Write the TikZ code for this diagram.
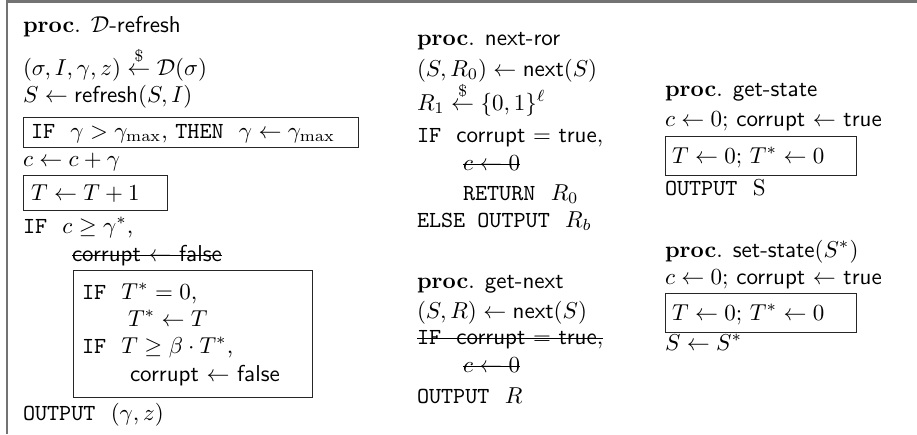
\documentclass[tikz,border=0pt]{standalone}
\usepackage{amsmath}
\newcommand{\kw}[1]{\texttt{#1}}
\newcommand{\sfn}[1]{\textsf{#1}}
\newcommand{\rnd}{\stackrel{\$}{\leftarrow}}
\tikzset{
  txt/.style={anchor=base west, inner sep=0pt, outer sep=0pt},
  cbox/.style={draw=black!85, line width=0.5pt, anchor=north west, inner sep=0pt},
  frameline/.style={draw=black!55, line width=0.9pt},
  strike/.style={draw=black, line width=0.4pt},
}
\begin{document}
\begin{tikzpicture}[x=0.4348pt,y=-0.4348pt]
\useasboundingbox (0,0) rectangle (917,434);
% frame
\coordinate (fTL) at (7,1.5);
\coordinate (fTR) at (917,1.5);
\coordinate (fBL) at (7,434);
\draw[frameline] (fBL) -- (fTL) -- (fTR);

% ---------- column 1 ----------
\node[txt] (a1) at (23,32) {\textbf{proc}. $\mathcal{D}$-\sfn{refresh}};
\node[txt] (a2) at (23,75) {$(\sigma,I,\gamma,z)\rnd\mathcal{D}(\sigma)$};
\node[txt] (a3) at (23,102) {$S\leftarrow\text{\sfn{refresh}}(S,I)$};
\node[cbox, minimum width=145.6pt, minimum height=13.0pt] (b1) at (23,117) {};
\node[txt] (a4) at (31,138) {\kw{IF}~~$\gamma>\gamma_{\max}$, \kw{THEN}~~$\gamma\leftarrow\gamma_{\max}$};
\node[txt] (a5) at (23,166) {$c\leftarrow c+\gamma$};
\node[cbox, minimum width=62.6pt, minimum height=15.2pt] (b2) at (23,175) {};
\node[txt] (a6) at (31,200) {$T\leftarrow T+1$};
\node[txt] (a7) at (23,233) {\kw{IF}~~$c\geq\gamma^{*}$,};
\node[txt] (a8) at (72,261) {\sfn{corrupt} $\leftarrow$ \sfn{false}};
\draw[strike] ([yshift=2.6pt]a8.base west) -- ([yshift=2.6pt]a8.base east);
\node[cbox, minimum width=103.9pt, minimum height=55.2pt] (b3) at (73,270) {};
\node[txt] (a9) at (82,299) {\kw{IF}~~$T^{*}=0$,};
\node[txt] (a10) at (128,326) {$T^{*}\leftarrow T$};
\node[txt] (a11) at (82,353) {\kw{IF}~~$T\geq\beta\cdot T^{*}$,};
\node[txt] (a12) at (130,381) {\sfn{corrupt} $\leftarrow$ \sfn{false}};
\node[txt] (a13) at (23,420) {\kw{OUTPUT}~~$(\gamma,z)$};

% ---------- column 2 ----------
\node[txt] (n1) at (417,45) {\textbf{proc}. \sfn{next-ror}};
\node[txt] (n2) at (417,76) {$(S,R_0)\leftarrow\text{\sfn{next}}(S)$};
\node[txt] (n3) at (417,110) {$R_1\rnd\{0,1\}^{\ell}$};
\node[txt] (n4) at (417,142) {\kw{IF}~~\sfn{corrupt} $=$ \sfn{true},};
\node[txt] (n5) at (463,170) {$c\leftarrow 0$};
\draw[strike] ([yshift=2.6pt]n5.base west) -- ([yshift=2.6pt]n5.base east);
\node[txt] (n6) at (463,200) {\kw{RETURN}~~$R_0$};
\node[txt] (n7) at (417,227) {\kw{ELSE OUTPUT}~~$R_b$};

\node[txt] (g1) at (417,288) {\textbf{proc}. \sfn{get-next}};
\node[txt] (g2) at (417,318) {$(S,R)\leftarrow\text{\sfn{next}}(S)$};
\node[txt] (g3) at (417,344) {\kw{IF}~~\sfn{corrupt} $=$ \sfn{true},};
\draw[strike] ([yshift=2.6pt]g3.base west) -- ([yshift=2.6pt]g3.base east);
\node[txt] (g4) at (463,372) {$c\leftarrow 0$};
\draw[strike] ([yshift=2.6pt]g4.base west) -- ([yshift=2.6pt]g4.base east);
\node[txt] (g5) at (417,403) {\kw{OUTPUT}~~$R$};

% ---------- column 3 ----------
\node[txt] (s1) at (665,96) {\textbf{proc}. \sfn{get-state}};
\node[txt] (s2) at (665,126) {$c\leftarrow 0$; \sfn{corrupt} $\leftarrow$ \sfn{true}};
\node[cbox, minimum width=83.0pt, minimum height=17.0pt] (b4) at (665,136) {};
\node[txt] (s3) at (672,163) {$T\leftarrow 0$; $T^{*}\leftarrow 0$};
\node[txt] (s4) at (665,195) {\kw{OUTPUT}~~S};

\node[txt] (t1) at (665,257) {\textbf{proc}. \sfn{set-state}$(S^{*})$};
\node[txt] (t2) at (665,284) {$c\leftarrow 0$; \sfn{corrupt} $\leftarrow$ \sfn{true}};
\node[cbox, minimum width=83.0pt, minimum height=17.0pt] (b5) at (665,293) {};
\node[txt] (t3) at (672,320) {$T\leftarrow 0$; $T^{*}\leftarrow 0$};
\node[txt] (t4) at (665,350) {$S\leftarrow S^{*}$};
\end{tikzpicture}
\end{document}
